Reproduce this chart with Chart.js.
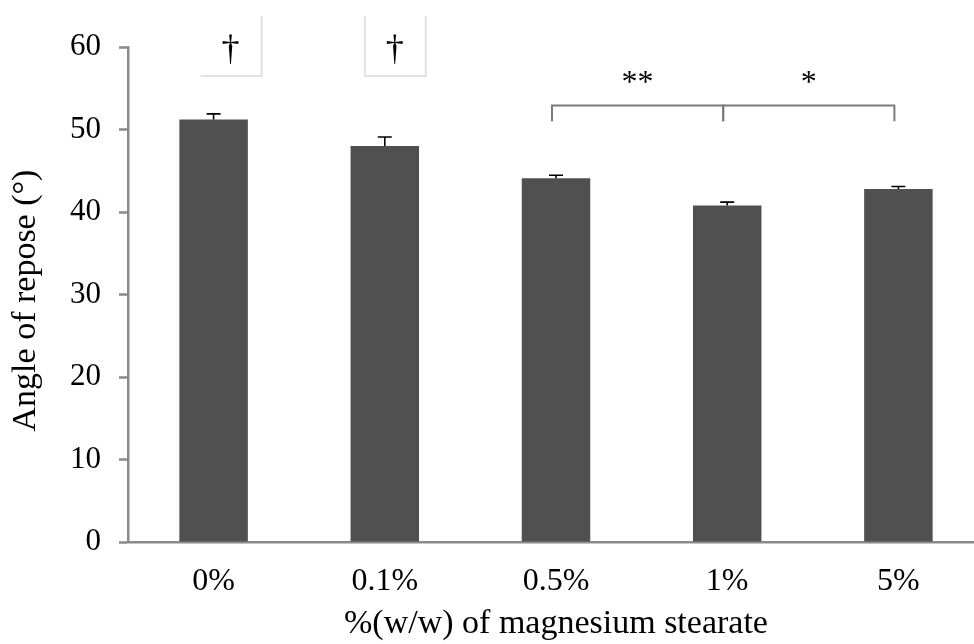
<!DOCTYPE html>
<html>
<head>
<meta charset="utf-8">
<script src="https://cdn.jsdelivr.net/npm/chart.js@4/dist/chart.umd.min.js"></script>
<style>
  html, body { margin: 0; padding: 0; background: #fff; overflow: hidden; }
  #wrap { width: 986px; height: 644px; }
</style>
</head>
<body>
<div id="wrap"><canvas id="c" width="986" height="644"></canvas></div>
<script>
// ---- data ----
const categories = ['0%', '0.1%', '0.5%', '1%', '5%'];
const angleValues = [51.2, 48.0, 44.1, 40.8, 42.8];
const angleErrors = [0.7, 1.1, 0.35, 0.4, 0.3];
const yTicks = [0, 10, 20, 30, 40, 50, 60];
const daggerMarks = [{ index: 0, label: '†' }, { index: 1, label: '†' }];
const brackets = [
  { from: 2, to: 3, label: '**' },
  { from: 3, to: 4, label: '*' }
];
const xTitle = '%(w/w) of magnesium stearate';
const yTitle = 'Angle of repose (°)';

const serif = '"Liberation Serif", "Times New Roman", serif';
const axisGray = '#8a8a8a';

const overlay = {
  id: 'overlay',
  afterDatasetsDraw(chart) {
    const ctx = chart.ctx;
    const x = chart.scales.x, y = chart.scales.y;
    const area = chart.chartArea;
    // error bars
    ctx.save();
    ctx.strokeStyle = '#000';
    ctx.lineWidth = 1.6;
    angleValues.forEach((v, i) => {
      const px = x.getPixelForValue(i);
      const y0 = y.getPixelForValue(v);
      const y1 = y.getPixelForValue(v + angleErrors[i]);
      ctx.beginPath();
      ctx.moveTo(px, y0); ctx.lineTo(px, y1);
      ctx.moveTo(px - 7, y1); ctx.lineTo(px + 7, y1);
      ctx.stroke();
    });
    ctx.restore();

    // significance brackets
    ctx.save();
    ctx.strokeStyle = '#7a7a7a';
    ctx.lineWidth = 2;
    ctx.fillStyle = '#000';
    ctx.font = '32px ' + serif;
    ctx.textAlign = 'center';
    ctx.textBaseline = 'middle';
    const yTop = y.getPixelForValue(52.9);
    const yLow = y.getPixelForValue(51.0);
    const yStar = y.getPixelForValue(55.6);
    brackets.forEach(b => {
      const xa = x.getPixelForValue(b.from) - 4;
      const xb = x.getPixelForValue(b.to) - 4;
      ctx.beginPath();
      ctx.moveTo(xa, yLow); ctx.lineTo(xa, yTop); ctx.lineTo(xb, yTop); ctx.lineTo(xb, yLow);
      ctx.stroke();
      ctx.fillText(b.label, (xa + xb) / 2, yStar);
    });
    ctx.restore();

    // dagger marks with faint boxes
    ctx.save();
    ctx.font = '36px ' + serif;
    ctx.textAlign = 'center';
    ctx.textBaseline = 'middle';
    ctx.fillStyle = '#000';
    ctx.strokeStyle = '#e2e2e2';
    ctx.lineWidth = 2;
    const boxBottom = y.getPixelForValue(56.5);
    const boxTop = y.getPixelForValue(63.8);
    const dagY = y.getPixelForValue(59.6);
    daggerMarks.forEach((d, k) => {
      const cx = x.getPixelForValue(d.index) + (k === 0 ? 17 : 10);
      const l = cx - 30, r = cx + 31;
      ctx.beginPath();
      if (k === 0) {
        ctx.moveTo(l, boxBottom); ctx.lineTo(r, boxBottom); ctx.lineTo(r, boxTop);
      } else {
        ctx.moveTo(l, boxTop); ctx.lineTo(l, boxBottom); ctx.lineTo(r, boxBottom); ctx.lineTo(r, boxTop);
      }
      ctx.stroke();
      ctx.fillText(d.label, cx, dagY);
    });
    ctx.restore();

    // axis titles
    ctx.save();
    ctx.fillStyle = '#000';
    ctx.font = '34px ' + serif;
    ctx.textAlign = 'center';
    ctx.textBaseline = 'alphabetic';
    ctx.fillText(xTitle, (area.left + area.right) / 2, area.bottom + 91);
    ctx.textBaseline = 'middle';
    ctx.translate(26, (area.top + area.bottom) / 2 + 6);
    ctx.rotate(-Math.PI / 2);
    ctx.fillText(yTitle, 0, 0);
    ctx.restore();
  }
};

new Chart(document.getElementById('c'), {
  type: 'bar',
  data: {
    labels: categories,
    datasets: [{
      data: angleValues,
      backgroundColor: '#505050',
      borderWidth: 0,
      barPercentage: 0.4,
      categoryPercentage: 1.0
    }]
  },
  options: {
    responsive: false,
    animation: false,
    devicePixelRatio: 1,
    layout: { padding: { top: 47, right: 2, left: 0, bottom: 0 } },
    plugins: { legend: { display: false }, tooltip: { enabled: false } },
    scales: {
      x: {
        grid: { display: true, drawOnChartArea: false, drawTicks: false },
        border: { color: axisGray, width: 2.5 },
        ticks: { color: '#000', font: { family: serif, size: 32 }, padding: 20, maxRotation: 0 },
        afterFit(scale) { scale.height = 102; }
      },
      y: {
        min: 0, max: 60,
        afterBuildTicks(scale) { scale.ticks = yTicks.map(v => ({ value: v })); },
        grid: { drawOnChartArea: false, drawTicks: true, tickLength: 9, tickColor: axisGray, tickWidth: 2.5 },
        border: { color: axisGray, width: 2.5 },
        ticks: { color: '#000', font: { family: serif, size: 31 }, padding: 18 },
        afterFit(scale) { scale.width = 128; }
      }
    }
  },
  plugins: [overlay]
});
</script>
</body>
</html>
